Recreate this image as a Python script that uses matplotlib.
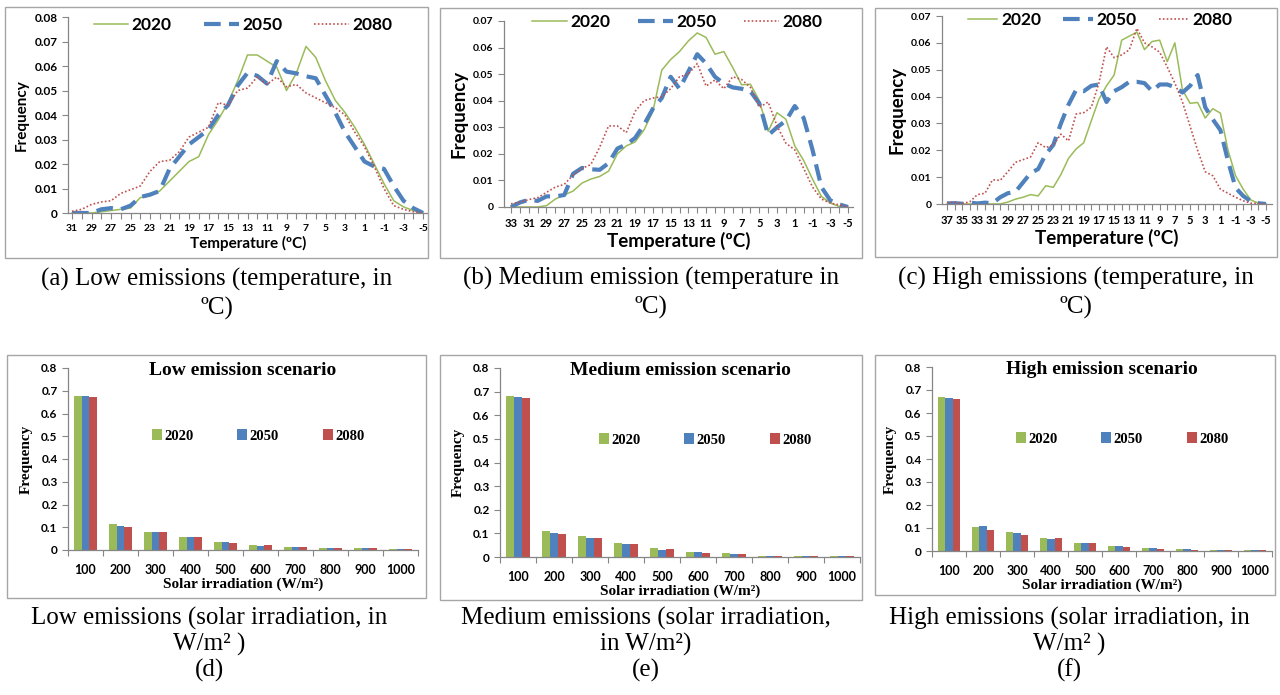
import matplotlib
matplotlib.use("Agg")
import matplotlib.pyplot as plt
from matplotlib.patches import Rectangle
from matplotlib.lines import Line2D

W, H = 1280, 695

YEARS = ["2020", "2050", "2080"]
GREEN, BLUE, RED = "#9BBB59", "#4F81BD", "#C0504D"
COLORS = [GREEN, BLUE, RED]

# temperature frequency curves, one value per degree (hot -> cold)
temps_low = list(range(31, -6, -1))
low_2020 = [0, 0, 0, 0.0005, 0.001, 0.0015, 0.002, 0.0063, 0.007, 0.009,
            0.013, 0.017, 0.021, 0.023, 0.032, 0.038, 0.045, 0.054, 0.0645, 0.0645,
            0.062, 0.0595, 0.050, 0.057, 0.068, 0.0635, 0.054, 0.046, 0.041, 0.035,
            0.028, 0.020, 0.012, 0.005, 0.0025, 0.001, 0]
low_2050 = [0, 0, 0, 0.0015, 0.002, 0.0015, 0.003, 0.0065, 0.0075, 0.009,
            0.018, 0.023, 0.028, 0.031, 0.034, 0.040, 0.044, 0.052, 0.0572, 0.056,
            0.0528, 0.062, 0.0577, 0.057, 0.0558, 0.055, 0.048, 0.041, 0.033, 0.027,
            0.021, 0.019, 0.018, 0.011, 0.005, 0.002, 0]
low_2080 = [0.0007, 0.0015, 0.0035, 0.0045, 0.005, 0.008, 0.0095, 0.011, 0.017, 0.021,
            0.0215, 0.025, 0.031, 0.033, 0.035, 0.045, 0.044, 0.050, 0.051, 0.0555,
            0.0525, 0.0555, 0.0515, 0.0525, 0.049, 0.047, 0.045, 0.043, 0.040, 0.033,
            0.027, 0.019, 0.010, 0.003, 0.0015, 0.0005, 0]

temps_med = list(range(33, -6, -1))
med_2020 = [0, 0, 0, 0, 0.0005, 0.003, 0.0045, 0.006, 0.009, 0.0105,
            0.0115, 0.0135, 0.020, 0.023, 0.0245, 0.029, 0.036, 0.0515, 0.0555, 0.0585,
            0.0625, 0.0655, 0.0638, 0.0575, 0.0585, 0.0525, 0.046, 0.0462, 0.040, 0.0285,
            0.0355, 0.033, 0.023, 0.0175, 0.0105, 0.004, 0.0015, 0.0002, 0]
med_2050 = [0, 0.0017, 0.0027, 0.0023, 0.004, 0.004, 0.0045, 0.0125, 0.0147, 0.0142,
            0.014, 0.0165, 0.022, 0.0235, 0.026, 0.031, 0.037, 0.041, 0.049, 0.0445,
            0.051, 0.0575, 0.054, 0.049, 0.0465, 0.045, 0.0445, 0.0435, 0.039, 0.027,
            0.030, 0.0325, 0.038, 0.0335, 0.0215, 0.0075, 0.0025, 0.001, 0]
med_2080 = [0.0012, 0.0018, 0.0028, 0.0035, 0.0055, 0.0075, 0.0085, 0.012, 0.0145, 0.016,
            0.0225, 0.0305, 0.0305, 0.028, 0.036, 0.040, 0.041, 0.0415, 0.0445, 0.049,
            0.050, 0.054, 0.0455, 0.0478, 0.0445, 0.049, 0.048, 0.045, 0.0375, 0.0395,
            0.0305, 0.024, 0.0215, 0.0145, 0.0075, 0.003, 0.0015, 0.0008, 0]

temps_high = list(range(37, -6, -1))
high_2020 = [0, 0, 0, 0, 0, 0, 0, 0, 0.0007, 0.0018,
             0.0025, 0.0035, 0.003, 0.0068, 0.0062, 0.011, 0.017, 0.0205, 0.0228, 0.031,
             0.039, 0.044, 0.048, 0.061, 0.0625, 0.064, 0.0575, 0.0605, 0.061, 0.053,
             0.060, 0.0425, 0.0375, 0.0378, 0.032, 0.0355, 0.0338, 0.020, 0.0105, 0.0055,
             0.0015, 0.0003, 0]
high_2050 = [0.0002, 0.0003, 0.0001, 0.0005, 0.0002, 0.0005, 0.0003, 0.0025, 0.004, 0.0045,
             0.008, 0.0115, 0.013, 0.0185, 0.022, 0.030, 0.037, 0.0425, 0.042, 0.044,
             0.0445, 0.038, 0.042, 0.0435, 0.0455, 0.0455, 0.045, 0.042, 0.0445, 0.0445,
             0.0435, 0.0415, 0.044, 0.048, 0.036, 0.0315, 0.0275, 0.016, 0.006, 0.003,
             0.001, 0.0003, 0]
high_2080 = [0.0005, 0.0007, 0.0002, 0.0008, 0.0035, 0.004, 0.009, 0.0088, 0.012, 0.0155,
             0.0165, 0.0175, 0.0228, 0.021, 0.022, 0.026, 0.0235, 0.0335, 0.034, 0.036,
             0.045, 0.0585, 0.0545, 0.0555, 0.0574, 0.0654, 0.060, 0.0585, 0.0565, 0.051,
             0.045, 0.038, 0.029, 0.020, 0.012, 0.0105, 0.0055, 0.004, 0.0025, 0.0012,
             0.0003, 0.0002, 0]

# solar irradiation histograms
irr_bins = ["100", "200", "300", "400", "500", "600", "700", "800", "900", "1000"]
irr_low_2020 = [0.678, 0.113, 0.078, 0.059, 0.035, 0.022, 0.015, 0.010, 0.007, 0.006]
irr_low_2050 = [0.678, 0.106, 0.078, 0.059, 0.035, 0.019, 0.011, 0.007, 0.007, 0.006]
irr_low_2080 = [0.672, 0.100, 0.078, 0.059, 0.031, 0.022, 0.014, 0.007, 0.007, 0.004]
irr_med_2020 = [0.680, 0.109, 0.088, 0.061, 0.037, 0.020, 0.016, 0.006, 0.006, 0.005]
irr_med_2050 = [0.677, 0.102, 0.082, 0.057, 0.030, 0.020, 0.011, 0.006, 0.006, 0.005]
irr_med_2080 = [0.673, 0.099, 0.082, 0.057, 0.033, 0.016, 0.011, 0.006, 0.006, 0.005]
irr_high_2020 = [0.669, 0.103, 0.081, 0.055, 0.033, 0.022, 0.014, 0.010, 0.006, 0.005]
irr_high_2050 = [0.666, 0.109, 0.077, 0.051, 0.033, 0.022, 0.014, 0.010, 0.006, 0.003]
irr_high_2080 = [0.662, 0.091, 0.070, 0.055, 0.033, 0.017, 0.010, 0.006, 0.006, 0.003]

SANS = "Lato"
SERIF = "Liberation Serif"
AXIS_GREY = "#868686"


def fig_rect(x0, y0, x1, y1):
    return [x0 / W, 1 - y1 / H, (x1 - x0) / W, (y1 - y0) / H]


def chart_frame(fig, x0, y0, x1, y1):
    fig.patches.append(Rectangle((x0 / W, 1 - y1 / H), (x1 - x0) / W, (y1 - y0) / H,
                                 transform=fig.transFigure, fill=False,
                                 edgecolor="#A6A6A6", linewidth=1.0))


def style_axes(ax):
    for side in ("top", "right"):
        ax.spines[side].set_visible(False)
    for side in ("left", "bottom"):
        ax.spines[side].set_color(AXIS_GREY)
        ax.spines[side].set_linewidth(0.9)
    ax.tick_params(colors=AXIS_GREY, length=4, width=0.8, labelcolor="black")


def temp_panel(fig, box, ax_px, xfit, temps, series, ymax, tick_fs, ylab_fs, xlab_fs,
               ytick_fs, leg_center, leg_opts, caption, cap_y):
    chart_frame(fig, *box)
    x0, y0, x1, y1 = ax_px
    ax = fig.add_axes(fig_rect(x0, y0, x1, y1))
    n = len(temps)
    idx = list(range(n))
    first_px, last_px = xfit
    step = (last_px - first_px) / (n - 1)
    ax.set_xlim(-(first_px - x0) / step, (n - 1) + (x1 - last_px) / step)
    ax.set_ylim(0, ymax)

    ax.plot(idx, series[0], color=GREEN, lw=1.1)
    ax.plot(idx, series[1], color=BLUE, lw=3.0, dashes=(4, 2))
    ax.plot(idx, series[2], color=RED, lw=1.2, dashes=(1, 1.3))

    style_axes(ax)
    ax.set_xticks(idx)
    ax.set_xticklabels([str(t) if i % 2 == 0 else "" for i, t in enumerate(temps)],
                       fontsize=tick_fs, fontweight="bold", family=SANS)
    ax.tick_params(axis="x", pad=4)
    yt = [k / 100 for k in range(int(round(ymax * 100)) + 1)]
    ax.set_yticks(yt)
    ax.set_yticklabels(["0"] + ["%.2f" % v for v in yt[1:]], fontsize=ytick_fs,
                       fontweight="bold", family=SANS)
    ax.set_ylabel("Frequency", fontsize=ylab_fs, fontweight="bold", family=SANS, labelpad=4)
    ax.set_xlabel("Temperature (ºC)", fontsize=xlab_fs, fontweight="bold", family=SANS,
                  labelpad=2)

    handles = [Line2D([], [], color=GREEN, lw=1.1),
               Line2D([], [], color=BLUE, lw=3.0, dashes=(4, 2)),
               Line2D([], [], color=RED, lw=1.2, dashes=(1, 1.3))]
    hl, cs = leg_opts
    ax.legend(handles, YEARS, loc="center", ncol=3, frameon=False,
              bbox_to_anchor=(leg_center[0] / W, 1 - leg_center[1] / H),
              bbox_transform=fig.transFigure, handlelength=hl, handletextpad=0.2,
              columnspacing=cs, prop={"family": SANS, "weight": "bold", "size": 12.5})

    cx = (box[0] + box[2]) / 2
    for k, line in enumerate(caption):
        fig.text(cx / W, 1 - (cap_y + 29 * k) / H, line, ha="center", va="center",
                 family=SERIF, fontsize=18)
    return ax


def bar_panel(fig, box, ax_px, series, title, leg_center, caption, cap_cx):
    chart_frame(fig, *box)
    x0, y0, x1, y1 = ax_px
    ax = fig.add_axes(fig_rect(x0, y0, x1, y1))
    n = len(irr_bins)
    width = 0.22
    for k, vals in enumerate(series):
        ax.bar([i + (k - 1) * width for i in range(n)], vals, width=width,
               color=COLORS[k], label=YEARS[k])
    ax.set_xlim(-0.5, n - 0.5)
    ax.set_ylim(0, 0.8)
    style_axes(ax)
    ax.set_xticks([i - 0.5 for i in range(n + 1)])
    ax.set_xticklabels([])
    ax.set_xticks(range(n), minor=True)
    ax.set_xticklabels(irr_bins, minor=True, fontsize=9, fontweight="bold", family=SANS)
    ax.tick_params(axis="x", which="minor", length=0, pad=10)
    yt = [k / 10 for k in range(9)]
    ax.set_yticks(yt)
    ax.set_yticklabels(["0"] + ["%.1f" % v for v in yt[1:]], fontsize=8.5,
                       fontweight="bold", family=SANS)
    ax.set_ylabel("Frequency", fontsize=11, fontweight="bold", family=SERIF, labelpad=6)
    ax.set_xlabel("Solar irradiation (W/m²)", fontsize=11, fontweight="bold",
                  family=SERIF, labelpad=1)
    ax.text(0.5, 0.985, title, transform=ax.transAxes, ha="center", va="center",
            family=SERIF, fontweight="bold", fontsize=14)
    ax.legend(loc="center", ncol=3, frameon=False,
              bbox_to_anchor=(leg_center[0] / W, 1 - leg_center[1] / H),
              bbox_transform=fig.transFigure, handlelength=0.7, handleheight=0.7,
              handletextpad=0.15, columnspacing=3.0,
              prop={"family": SERIF, "weight": "bold", "size": 10.5})
    for k, line in enumerate(caption):
        fig.text(cap_cx / W, 1 - (618 + 26 * k) / H, line, ha="center", va="center",
                 family=SERIF, fontsize=18)
    return ax


fig = plt.figure(figsize=(W / 100, H / 100), dpi=100)
fig.patch.set_facecolor("white")

temp_panel(fig, (5, 7, 428, 258), (68, 17, 428, 213), (72, 423), temps_low,
           [low_2020, low_2050, low_2080], 0.08, 7.5, 11, 11, 8.5, (243, 25), (2.0, 1.85),
           ["(a) Low emissions (temperature, in", "ºC)"], 279)
temp_panel(fig, (440, 8, 862, 258), (504, 21, 853, 207), (511, 848), temps_med,
           [med_2020, med_2050, med_2080], 0.07, 8, 13.5, 13.5, 7.5, (677, 22), (2.0, 1.6),
           ["(b) Medium emission (temperature in", "ºC)"], 278)
temp_panel(fig, (875, 8, 1277, 257), (942, 16, 1272, 204), (947, 1266), temps_high,
           [high_2020, high_2050, high_2080], 0.07, 8, 13.5, 13.5, 7.5, (1100, 20), (1.7, 1.3),
           ["(c) High emissions (temperature, in", "ºC)"], 278)

bar_panel(fig, (7, 355, 426, 598), (68, 368, 418, 550),
          [irr_low_2020, irr_low_2050, irr_low_2080], "Low emission scenario",
          (258, 436), ["Low emissions (solar irradiation, in", "W/m² )", "(d)"], 209)
bar_panel(fig, (440, 355, 862, 600), (500, 368, 860, 557),
          [irr_med_2020, irr_med_2050, irr_med_2080], "Medium emission scenario",
          (705, 440), ["Medium emissions (solar irradiation,", "in W/m²)", "(e)"], 646)
bar_panel(fig, (875, 355, 1275, 595), (932, 367, 1272, 551),
          [irr_high_2020, irr_high_2050, irr_high_2080], "High emission scenario",
          (1122, 439), ["High emissions (solar irradiation, in", "W/m² )", "(f)"], 1069)

fig.savefig("out.png", dpi=100, facecolor="white")
